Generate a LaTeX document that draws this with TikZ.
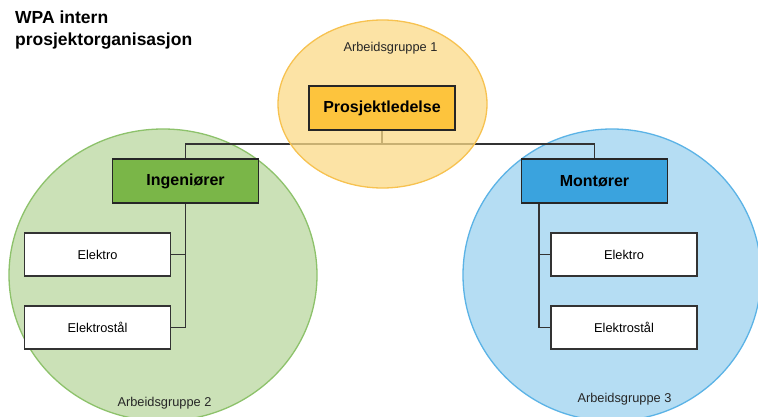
\documentclass[tikz,border=0pt]{standalone}
\usepackage{fontspec}
\setmainfont{Liberation Sans}
\usetikzlibrary{positioning}
\definecolor{lead}{HTML}{FDC43D}
\definecolor{leadgroup}{HTML}{FBDA88}
\definecolor{leadedge}{HTML}{F7C250}
\definecolor{eng}{HTML}{7AB648}
\definecolor{enggroup}{HTML}{CBE1B7}
\definecolor{engedge}{HTML}{8DC26B}
\definecolor{mnt}{HTML}{3AA3DE}
\definecolor{mntgroup}{HTML}{B5DDF3}
\definecolor{mntedge}{HTML}{5BB3E6}
\definecolor{wire}{HTML}{333333}
\tikzset{
  headbox/.style={draw=black!85, line width=1.5pt, minimum width=146pt, minimum height=44pt,
    font=\fontsize{16}{19}\selectfont\bfseries, inner sep=0pt},
  subbox/.style={draw=black!80, line width=1.4pt, fill=white, minimum width=146pt, minimum height=43pt,
    font=\fontsize{12.8}{15}\selectfont, inner sep=0pt},
  grouplabel/.style={font=\fontsize{12.8}{15}\selectfont, text=black!85, inner sep=0pt},
  wireline/.style={draw=wire, line width=1.5pt},
}
\begin{document}
\begin{tikzpicture}[x=1pt, y=-1pt]
\useasboundingbox (0,0) rectangle (758,417);
\fill[white] (0,0) rectangle (758,417);

% working groups 2 and 3
\filldraw[fill=enggroup, draw=engedge, line width=1.3pt] (163,275) ellipse [x radius=154, y radius=146];
\filldraw[fill=mntgroup, draw=mntedge, line width=1.3pt] (612,275) ellipse [x radius=149, y radius=146];

% head nodes
\node[headbox, fill=lead] (lead) at (382,108) {Prosjektledelse};
\node[headbox, fill=eng] (eng) at (185.5,181) {Ingeniører};
\node[headbox, fill=mnt] (mnt) at (594.5,181) {Montører};

% sub nodes
\node[subbox] (e1) at (97.5,254.5) {Elektro};
\node[subbox] (s1) at (97.5,327.5) {Elektrostål};
\node[subbox] (e2) at (624,254.5) {Elektro};
\node[subbox] (s2) at (624,327.5) {Elektrostål};

% connectors
\coordinate (bus) at (382,144);
\draw[wireline] (lead.south) -- (bus);
\draw[wireline] (bus) -| (eng.north);
\draw[wireline] (bus) -| (mnt.north);
\draw[wireline] (eng.south) |- (s1.east);
\draw[wireline] (e1.east) -- (e1.east -| eng.south);
\draw[wireline] (mnt.south -| 539,0) |- (s2.west);
\draw[wireline] (e2.west) -- (e2.west -| 539,0);

% working group 1, translucent over the bus
\filldraw[fill=leadgroup, draw=leadedge, line width=1.3pt, fill opacity=0.75] (382.5,104) ellipse [x radius=104.5, y radius=84];
\node[headbox, fill=lead] at (lead) {Prosjektledelse};

% group labels
\node[grouplabel] (g1) at (390.5,48) {Arbeidsgruppe 1};
\node[grouplabel] (g2) at (164.5,403) {Arbeidsgruppe 2};
\node[grouplabel] (g3) at (624.5,399) {Arbeidsgruppe 3};

% title
\node[anchor=north west, align=left, inner sep=0pt, font=\fontsize{17.5}{22}\selectfont\bfseries] (title) at (15,11)
  {WPA intern\\prosjektorganisasjon};
\end{tikzpicture}
\end{document}
